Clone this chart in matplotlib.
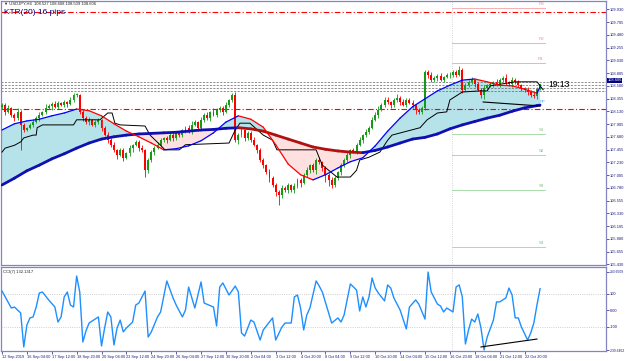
import matplotlib.pyplot as plt
import numpy as np
from matplotlib.collections import LineCollection
import matplotlib.transforms as mtransforms

plt.rcParams['font.family'] = ['Liberation Sans', 'DejaVu Sans']

# USDJPY H4 bars, 12 Sep 2019 20:00 -> 23 Oct 2019
closes = [108.24, 108.12, 108.19, 108.07, 108.01, 108.12, 107.89, 107.80, 107.84, 107.89,
          107.94, 108.01, 108.07, 108.12, 108.19, 108.22, 108.26, 108.21, 108.28, 108.24,
          108.29, 108.26, 108.33, 108.42, 108.42, 108.12, 108.01, 107.94, 107.98, 107.89,
          107.94, 107.98, 107.84, 107.71, 107.62, 107.54, 107.45, 107.36, 107.45, 107.31,
          107.39, 107.48, 107.54, 107.59, 107.48, 107.45, 107.09, 107.27, 107.41, 107.48,
          107.54, 107.62, 107.66, 107.62, 107.71, 107.66, 107.75, 107.71, 107.80, 107.84,
          107.77, 107.89, 107.94, 107.84, 107.98, 108.07, 108.01, 108.12, 108.07, 108.15,
          108.19, 108.12, 108.24, 108.33, 108.42, 107.62, 107.71, 107.80, 107.66, 107.75,
          107.62, 107.54, 107.45, 107.27, 107.18, 107.06, 106.95, 106.83, 106.71, 106.65,
          106.78, 106.74, 106.83, 106.74, 106.81, 106.92, 106.87, 107.01, 107.09, 107.18,
          107.09, 107.27, 107.24, 107.13, 107.01, 106.92, 106.83, 106.95, 107.06, 107.18,
          107.27, 107.36, 107.45, 107.41, 107.54, 107.62, 107.71, 107.77, 107.84, 107.98,
          108.07, 108.15, 108.24, 108.33, 108.29, 108.24, 108.33, 108.37, 108.29, 108.24,
          108.33, 108.28, 108.24, 108.15, 108.12, 108.19, 108.82, 108.77, 108.68, 108.72,
          108.75, 108.68, 108.74, 108.77, 108.77, 108.82, 108.77, 108.86, 108.51, 108.59,
          108.65, 108.68, 108.61, 108.51, 108.42, 108.54, 108.59, 108.61, 108.65, 108.59,
          108.68, 108.72, 108.65, 108.61, 108.68, 108.65, 108.59, 108.54, 108.51, 108.47,
          108.42, 108.40, 108.53, 108.606]
first_open = 108.20
# wick lengths in 0.01 yen
wick_up = [4, 3, 5, 2, 3, 6, 3, 4, 2, 3, 5, 3, 4, 2, 6, 3, 4, 5, 3, 2,
           4, 3, 5, 3, 3, 2, 4, 3, 5, 2, 3, 4, 2, 3, 5, 3, 4, 2, 3, 4,
           3, 5, 2, 4, 3, 6, 2, 3, 4, 3, 5, 3, 2, 4, 3, 5, 3, 4, 2, 3,
           4, 6, 3, 2, 5, 3, 4, 2, 6, 3, 4, 3, 5, 2, 4, 5, 3, 6, 2, 4,
           3, 5, 2, 4, 3, 2, 5, 3, 4, 3, 5, 3, 4, 2, 6, 3, 4, 3, 5, 2,
           4, 3, 6, 2, 3, 4, 5, 3, 2, 4, 3, 5, 2, 4, 3, 6, 2, 4, 3, 5,
           4, 8, 3, 5, 6, 3, 4, 7, 3, 5, 4, 3, 5, 2, 3, 4, 4, 3, 5, 4,
           3, 6, 2, 4, 5, 3, 4, 7, 3, 4, 3, 5, 2, 4, 3, 6, 3, 4, 2, 5,
           3, 4, 6, 2, 5, 3, 4, 3, 2, 4, 3, 5, 2, 0]
wick_dn = [3, 5, 2, 4, 6, 3, 44, 4, 2, 3, 4, 2, 5, 3, 4, 2, 6, 3, 4, 2,
           3, 5, 2, 4, 3, 4, 6, 3, 5, 2, 4, 3, 6, 2, 5, 4, 3, 8, 2, 5,
           3, 4, 6, 2, 5, 3, 12, 4, 3, 5, 2, 4, 3, 5, 2, 6, 3, 4, 3, 5,
           3, 4, 2, 6, 3, 4, 3, 5, 2, 4, 3, 5, 2, 4, 3, 4, 6, 3, 5, 3,
           4, 3, 6, 4, 5, 3, 6, 4, 8, 17, 5, 4, 6, 3, 5, 4, 7, 3, 4, 5,
           3, 6, 4, 5, 12, 10, 6, 4, 3, 5, 4, 3, 6, 2, 4, 3, 5, 3, 4, 2,
           3, 5, 2, 4, 3, 5, 4, 3, 5, 2, 4, 3, 5, 6, 3, 4, 3, 5, 4, 3,
           5, 2, 4, 3, 6, 3, 4, 2, 5, 3, 4, 3, 5, 2, 6, 8, 4, 3, 5, 2,
           4, 3, 5, 3, 6, 4, 3, 5, 4, 6, 4, 3, 5, 2]

# moving averages read every 4 bars
ma_idx = list(range(0, 173, 4)) + [173]
fast_ma = [107.80, 107.91, 107.96, 107.99, 108.05, 108.10, 108.17, 108.14, 108.05, 107.91,
           107.78, 107.68, 107.57, 107.45, 107.47, 107.52, 107.61, 107.75, 107.94, 108.05,
           107.99, 107.85, 107.54, 107.20, 107.01, 106.92, 107.01, 107.13, 107.24, 107.31,
           107.52, 107.78, 108.01, 108.21, 108.35, 108.49, 108.59, 108.68, 108.70, 108.65,
           108.59, 108.58, 108.52, 108.45, 108.56]
slow_ma = [106.83, 106.95, 107.08, 107.18, 107.29, 107.38, 107.48, 107.57, 107.64, 107.68,
           107.71, 107.73, 107.74, 107.75, 107.76, 107.78, 107.80, 107.81, 107.83, 107.84,
           107.82, 107.78, 107.71, 107.64, 107.57, 107.50, 107.46, 107.43, 107.41, 107.40,
           107.44, 107.50, 107.57, 107.64, 107.67, 107.73, 107.82, 107.89, 107.95, 108.01,
           108.06, 108.13, 108.19, 108.23, 108.24]

# black stepped channel line (vertices)
step_idx = [0, 1, 4, 6, 7, 10, 11, 11.3, 13, 23, 24, 31.5, 34, 35.4, 36.3, 38, 46, 47.6, 50.8,
            52.4, 57, 59, 73, 75, 76.5, 79.7, 84, 87, 88.4, 101, 102, 103, 107.7, 112, 114,
            115, 118, 121.5, 124, 125.4, 134.4, 136.7, 140, 143, 144, 148, 153.7, 156, 157,
            165, 172, 174]
step_val = [107.41, 107.48, 107.53, 107.59, 107.66, 107.71, 107.71, 107.84, 107.89, 107.89,
            107.98, 107.98, 108.10, 108.10, 107.92, 107.89, 107.87, 107.71, 107.54, 107.45,
            107.45, 107.54, 107.57, 107.80, 107.92, 107.92, 107.71, 107.62, 107.45, 107.45,
            107.31, 107.18, 106.97, 106.97, 107.09, 107.27, 107.32, 107.41, 107.62, 107.71,
            107.84, 107.98, 108.10, 108.12, 108.33, 108.47, 108.49, 108.49, 108.58, 108.65,
            108.65, 108.51]

# CCI(7) turning points
cci_idx = [0, 3, 4, 6, 7, 8, 9, 10, 11, 12, 13, 15, 17, 18, 19, 20, 21, 22, 23, 24,
           25, 26, 27, 28, 31, 32, 33, 34, 35, 36, 37, 38, 39, 40, 42, 43, 44, 46, 47, 48,
           50, 51, 53, 55, 56, 58, 59, 60, 62, 64, 65, 68, 69, 70, 71, 73, 75, 76, 77, 78,
           80, 81, 83, 84, 87, 88, 90, 91, 93, 94, 95, 96, 97, 98, 99, 101, 102, 103, 106, 108,
           109, 110, 112, 114, 115, 116, 117, 118, 119, 120, 121, 123, 124, 125, 126, 128, 130, 131, 133, 134,
           136, 137, 138, 140, 141, 142, 143, 145, 146, 147, 148, 149, 150, 151, 152, 153, 154, 155, 156, 158,
           159, 160, 162, 163, 164, 165, 166, 167, 169, 170, 171, 172, 173]
cci_val = [118, 15, 21, -15, -221, -88, -45, -39, 21, 106, 112, 64, 21, -70, -39, 82, 112, 33, 21, 209,
           112, -191, -124, -76, -39, -215, -106, -9, -39, -209, -106, -58, -130, -106, -70, 33, 45, 118, -161, -130,
           -39, -9, 179, 76, 33, -39, 3, 142, 15, 173, 45, 21, -94, 142, 167, 94, 148, 112, -136, -155,
           -58, -70, -179, -118, -45, -179, -100, -76, -76, 82, 94, 15, -118, -27, 15, 179, 148, 112, -76, -45,
           -70, -27, 161, 124, -3, 82, 21, 82, 197, 136, 106, 58, 155, 136, 76, 3, -112, 21, 64, 39,
           -52, 233, 112, 39, 27, -9, 15, -9, 142, 155, 82, -203, -118, -52, -70, -21, -106, -239, -161, -58,
           52, 52, 76, 136, 94, -45, -45, -100, -179, -136, -76, 33, 132]

date_labels = ['12 Sep 2019', '16 Sep 04:00', '17 Sep 12:00', '18 Sep 20:00', '20 Sep 04:00',
               '23 Sep 12:00', '24 Sep 20:00', '26 Sep 04:00', '27 Sep 12:00', '30 Sep 20:00',
               '2 Oct 04:00', '3 Oct 12:00', '4 Oct 20:00', '8 Oct 04:00', '9 Oct 12:00',
               '10 Oct 20:00', '14 Oct 04:00', '15 Oct 12:00', '16 Oct 20:00', '18 Oct 04:00',
               '21 Oct 12:00', '22 Oct 20:00']
price_ticks = [109.930, 109.705, 109.480, 109.255, 109.030, 108.805, 108.580, 108.355,
               108.130, 107.905, 107.680, 107.455, 107.230, 107.005, 106.780, 106.555,
               106.330, 106.105, 105.880, 105.655, 105.430]
pivot_names = ['R3', 'R2', 'R1', 'S1', 'S2', 'S3', 'S4']
pivot_vals = [109.95, 109.34, 108.98, 107.73, 107.36, 106.74, 105.74]
grey_levels = [108.647, 108.594, 108.541, 108.488]
red_levels = [109.882, 108.171]

W, H = 625, 361
fig = plt.figure(figsize=(W / 100, H / 100), dpi=100)
ax = fig.add_axes([1 / W, 1 - 265 / H, 605 / W, 264 / H])
ax2 = fig.add_axes([1 / W, 1 - 351 / H, 605 / W, 84 / H])
frame = '#8484c4'
lab = '#1a1a80'
for a in (ax, ax2):
    a.set_xlim(-0.32, 194.2)
    for sp in a.spines.values():
        sp.set_color(frame)
        sp.set_linewidth(0.9)
    a.yaxis.tick_right()
ax.set_ylim(105.418, 110.076)
ax2.set_ylim(-245.5, 263.6)


def slope_line(a, xs, ys, up_c, dn_c, lw, z):
    xs = np.asarray(xs, float)
    ys = np.asarray(ys, float)
    pts = np.column_stack([xs, ys])
    segs = np.stack([pts[:-1], pts[1:]], axis=1)
    cols = [up_c if b >= q else dn_c for q, b in zip(ys[:-1], ys[1:])]
    a.add_collection(LineCollection(segs, colors=cols, linewidths=lw, zorder=z, capstyle='round'))


# fill between fast and slow average
mi = np.array(ma_idx)
f = np.array(fast_ma)
s = np.array(slow_ma)
ax.fill_between(mi, f, s, where=f >= s, interpolate=True, color='#b6e2ea', lw=0, zorder=1)
ax.fill_between(mi, f, s, where=f < s, interpolate=True, color='#ffe0e0', lw=0, zorder=1)

# candles
c = np.array(closes)
o = np.array([first_open] + closes[:-1])
hi = np.maximum(o, c) + np.array(wick_up) / 100
lo = np.minimum(o, c) - np.array(wick_dn) / 100
x = np.arange(len(c))
col = np.where(c >= o, '#169a16', '#ff0000')
ax.vlines(x, lo, hi, colors=col, lw=0.6, zorder=3)
ax.bar(x, np.maximum(np.abs(c - o), 0.008), bottom=np.minimum(o, c), width=0.62,
       color=col, lw=0, zorder=3)

# levels
for p in red_levels:
    ax.axhline(p, color='#ff0000', lw=0.8, dashes=(5, 2, 1, 2), zorder=2)
for p in grey_levels:
    ax.axhline(p, color='#606060', lw=0.5, dashes=(3, 2), zorder=2)
for a in (ax, ax2):
    a.axvline(144.7, color='#c8c8c8', lw=0.6, ls=':', zorder=0)
for name, p in zip(pivot_names, pivot_vals):
    pc = '#f5b0b0' if name[0] == 'R' else '#a9dba9'
    tc = '#e89090' if name[0] == 'R' else '#80b880'
    ax.plot([144.7, 174.6], [p, p], color=pc, lw=0.7, zorder=2)
    ax.text(173.3, p + 0.03, name, fontsize=3.2, color=tc, va='bottom', ha='center')
ax.text(173.8, 108.30, 'PP', fontsize=3.2, color='#6aaee0', va='center', ha='center')

# averages and channel line
ax.plot(step_idx, step_val, color='black', lw=0.7, zorder=4)
slope_line(ax, ma_idx, slow_ma, '#1010b0', '#b01010', 2.0, 5)
slope_line(ax, ma_idx, fast_ma, '#0000ff', '#ff0000', 0.9, 6)
ax.plot([154.7, 173], [108.294, 108.224], color='black', lw=0.8, zorder=7)

# texts on main pane
fig.text(4 / W, 1 - 4 / H, '\u25bc USDJPY,H4  108.527 108.608 108.509 108.606',
         fontsize=3.0, va='center', color='#202020')
fig.text(4 / W, 1 - 13 / H, 'KTR(20) 16 pips', fontsize=6, color='#000080', va='center')
ax.text(175.6, 108.61, '19:13', fontsize=6.2, va='center', ha='left', zorder=8)
tr = mtransforms.blended_transform_factory(ax.transAxes, ax.transData)
ax.text(1.002, closes[-1] + 0.07, '108.606', transform=tr, fontsize=2.9, color='white',
        va='center', ha='left', clip_on=False, zorder=10,
        bbox=dict(boxstyle='square,pad=0.15', fc='#000080', ec='none'))

ax.set_xticks([])
ax.set_yticks(price_ticks)
ax.set_yticklabels([f'{p:.3f}' for p in price_ticks])
ax.tick_params(axis='y', labelsize=2.9, colors=lab, length=2, width=0.5, pad=1)

# CCI pane
ax2.axhline(100, color='#c0c0c0', lw=0.6, ls=':')
ax2.axhline(-100, color='#c0c0c0', lw=0.6, ls=':')
ax2.plot(cci_idx, cci_val, color='#1e8fff', lw=1.0, zorder=3)
ax2.plot([154, 172], [-221, -173], color='black', lw=0.8, zorder=4)
fig.text(3 / W, 1 - 272 / H, 'CCI(7) 132.1317', fontsize=3.0, va='center', color='#202020')
cci_ticks = [233.6509, 100, 0, -100, -239.6462]
ax2.set_yticks(cci_ticks)
ax2.set_yticklabels(['233.6509', '100', '0.00', '-100', '-239.6462'])
ax2.tick_params(axis='y', labelsize=2.9, colors=lab, length=2, width=0.5, pad=1)
for t in (ax2.get_yticklabels()[0], ax2.get_yticklabels()[-1]):
    t.set_fontsize(2.4)
ax2.set_xticks(range(0, 169, 8))
ax2.set_xticklabels(date_labels, ha='left')
ax2.tick_params(axis='x', labelsize=2.8, colors=lab, length=2, width=0.5, pad=1)

fig.savefig('out.png', dpi=100)
